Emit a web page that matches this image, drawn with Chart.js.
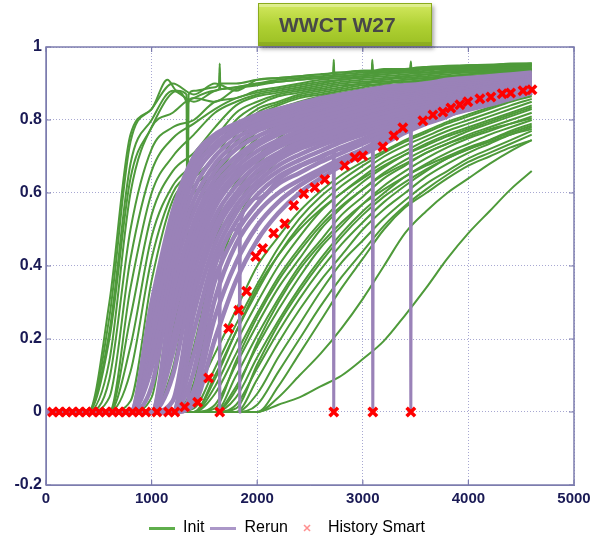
<!DOCTYPE html>
<html>
<head>
<meta charset="utf-8">
<script src="https://cdn.jsdelivr.net/npm/chart.js@4.4.1/dist/chart.umd.min.js"></script>
<style>
  html, body { margin: 0; padding: 0; background: #fff; overflow: hidden; }
  #wrap { position: relative; width: 607px; height: 546px; }
  #title {
    position: absolute; left: 258px; top: 3px; width: 174px; height: 43px;
    box-sizing: border-box; padding-left: 20px;
    background: linear-gradient(#d2e85e, #aed032 55%, #9cc024);
    border: 1px solid #8aab1c;
    box-shadow: 2px 3px 4px rgba(0,0,0,0.35), inset 0 3px 0 rgba(255,255,255,0.3), inset 0 -3px 0 rgba(0,0,0,0.1);
    font: bold 21px "Liberation Sans", Arial, sans-serif; color: #484848; line-height: 41px;
  }
</style>
</head>
<body>
<div id="wrap">
  <canvas id="chart" width="607" height="546"></canvas>
  <div id="title">WWCT W27</div>
</div>
<script>
// time axis shared by the ensemble runs (days)
var days = [0,200,400,600,800,1000,1200,1400,1600,1800,2000,2200,2400,2600,2800,3000,3200,3400,3600,3800,4000,4200,4400,4600];

// Init runs - early breakthrough, end in the top band
var initEarly = [
  [0,0,0,0.26,0.74,0.83,0.90,0.87,0.90,0.88,0.91,0.915,0.92,0.925,0.93,0.935,0.935,0.94,0.945,0.945,0.95,0.95,0.955,0.955],
  [0,0,0,0.22,0.68,0.80,0.88,0.85,0.88,0.89,0.90,0.91,0.915,0.92,0.925,0.93,0.935,0.94,0.94,0.945,0.945,0.95,0.95,0.955],
  [0,0,0,0.14,0.60,0.78,0.82,0.86,0.85,0.885,0.895,0.905,0.91,0.915,0.92,0.925,0.93,0.935,0.94,0.94,0.945,0.945,0.95,0.95],
  [0,0,0,0.09,0.50,0.72,0.78,0.80,0.85,0.86,0.88,0.89,0.90,0.91,0.915,0.92,0.925,0.93,0.935,0.94,0.94,0.945,0.945,0.95],
  [0,0,0,0.04,0.42,0.66,0.75,0.79,0.83,0.86,0.875,0.885,0.895,0.905,0.91,0.92,0.925,0.93,0.93,0.935,0.94,0.94,0.945,0.945],
  [0,0,0,0,0.34,0.60,0.70,0.76,0.82,0.85,0.87,0.88,0.89,0.90,0.91,0.915,0.92,0.925,0.93,0.935,0.935,0.94,0.94,0.945],
  [0,0,0,0,0.26,0.54,0.66,0.71,0.78,0.84,0.865,0.875,0.885,0.895,0.905,0.91,0.915,0.92,0.925,0.93,0.935,0.935,0.94,0.94],
  [0,0,0,0,0.18,0.48,0.62,0.68,0.75,0.82,0.85,0.87,0.88,0.89,0.90,0.905,0.91,0.92,0.925,0.93,0.93,0.935,0.935,0.94],
  [0,0,0,0,0.11,0.42,0.60,0.66,0.72,0.80,0.84,0.865,0.875,0.885,0.895,0.90,0.91,0.915,0.92,0.925,0.93,0.93,0.935,0.94],
  [0,0,0,0,0.03,0.36,0.58,0.64,0.70,0.78,0.83,0.85,0.87,0.88,0.89,0.90,0.905,0.91,0.915,0.92,0.925,0.93,0.935,0.935],
  [0,0,0,0,0,0.30,0.55,0.62,0.67,0.76,0.82,0.845,0.865,0.875,0.885,0.895,0.90,0.91,0.915,0.92,0.925,0.93,0.93,0.935],
  [0,0,0,0,0,0.22,0.50,0.60,0.65,0.74,0.81,0.84,0.86,0.87,0.88,0.89,0.90,0.905,0.91,0.915,0.92,0.925,0.93,0.935],
  [0,0,0,0,0,0.14,0.45,0.58,0.66,0.72,0.79,0.83,0.85,0.865,0.875,0.885,0.895,0.90,0.91,0.915,0.92,0.925,0.93,0.93],
  [0,0,0,0,0,0.04,0.40,0.56,0.63,0.70,0.77,0.82,0.84,0.86,0.87,0.88,0.89,0.90,0.905,0.91,0.915,0.92,0.925,0.93]
];

// two Init runs with the short jumps at the shut-in dates
var spikyDays = [0,400,600,800,1000,1150,1240,1330,1340,1350,1400,1600,1640,1645,1650,1800,2000,2200,2400,2600,2720,2725,2730,2800,3000,3085,3090,3095,3200,3400,3450,3455,3460,3600,4000,4600];
var spikyWctA = [0,0,0.30,0.76,0.83,0.91,0.88,0.87,0.41,0.87,0.88,0.89,0.90,0.955,0.90,0.90,0.91,0.915,0.92,0.925,0.93,0.965,0.93,0.93,0.935,0.935,0.965,0.935,0.94,0.94,0.94,0.96,0.94,0.945,0.95,0.955];
var spikyWctB = [0,0,0.20,0.64,0.78,0.86,0.88,0.85,0.84,0.85,0.86,0.88,0.885,0.93,0.885,0.89,0.90,0.905,0.91,0.915,0.92,0.95,0.92,0.92,0.925,0.93,0.955,0.93,0.93,0.935,0.935,0.955,0.935,0.94,0.945,0.95];

// Init runs - middle, mostly under the rerun band
var initMid = [
  [0,0,0,0,0,0,0.30,0.52,0.64,0.72,0.77,0.80,0.83,0.85,0.86,0.87,0.88,0.89,0.90,0.905,0.91,0.915,0.92,0.925],
  [0,0,0,0,0,0,0.22,0.46,0.60,0.69,0.75,0.79,0.82,0.84,0.855,0.865,0.875,0.885,0.89,0.90,0.905,0.91,0.915,0.92],
  [0,0,0,0,0,0,0.12,0.40,0.56,0.66,0.73,0.77,0.80,0.82,0.84,0.855,0.865,0.875,0.885,0.89,0.895,0.90,0.91,0.915],
  [0,0,0,0,0,0,0,0.34,0.52,0.63,0.70,0.75,0.79,0.81,0.83,0.845,0.86,0.87,0.875,0.885,0.89,0.895,0.90,0.905],
  [0,0,0,0,0,0,0,0.26,0.47,0.60,0.68,0.73,0.77,0.80,0.82,0.835,0.85,0.86,0.87,0.875,0.88,0.89,0.895,0.90],
  [0,0,0,0,0,0,0,0.18,0.42,0.56,0.65,0.71,0.75,0.78,0.805,0.825,0.84,0.85,0.86,0.87,0.875,0.88,0.89,0.895],
  [0,0,0,0,0,0,0,0.08,0.36,0.52,0.62,0.69,0.74,0.77,0.795,0.815,0.83,0.845,0.855,0.865,0.87,0.88,0.885,0.89]
];

// Init runs - late breakthrough, below the history
var initLate = [
  [0,0,0,0,0,0,0,0.05,0.16,0.28,0.40,0.48,0.55,0.605,0.65,0.685,0.715,0.745,0.77,0.795,0.815,0.835,0.855,0.87],
  [0,0,0,0,0,0,0,0.01,0.12,0.24,0.35,0.45,0.53,0.59,0.635,0.675,0.71,0.74,0.765,0.79,0.81,0.83,0.85,0.865],
  [0,0,0,0,0,0,0,0,0.10,0.22,0.33,0.43,0.51,0.57,0.62,0.66,0.70,0.73,0.755,0.78,0.80,0.82,0.84,0.858],
  [0,0,0,0,0,0,0,0,0.07,0.19,0.30,0.40,0.48,0.55,0.60,0.645,0.685,0.715,0.745,0.77,0.79,0.81,0.83,0.85],
  [0,0,0,0,0,0,0,0,0.05,0.16,0.27,0.37,0.45,0.52,0.58,0.63,0.67,0.705,0.735,0.76,0.78,0.80,0.82,0.84],
  [0,0,0,0,0,0,0,0,0.02,0.13,0.24,0.34,0.42,0.50,0.56,0.61,0.655,0.69,0.72,0.745,0.77,0.79,0.81,0.83],
  [0,0,0,0,0,0,0,0,0,0.10,0.21,0.31,0.40,0.47,0.54,0.59,0.64,0.675,0.71,0.735,0.76,0.78,0.80,0.82],
  [0,0,0,0,0,0,0,0,0,0.07,0.18,0.28,0.37,0.45,0.51,0.57,0.62,0.66,0.695,0.725,0.75,0.77,0.79,0.81],
  [0,0,0,0,0,0,0,0,0,0.04,0.15,0.25,0.34,0.42,0.49,0.55,0.60,0.645,0.68,0.71,0.735,0.76,0.78,0.80],
  [0,0,0,0,0,0,0,0,0,0.02,0.12,0.22,0.31,0.39,0.46,0.52,0.575,0.62,0.66,0.695,0.72,0.745,0.77,0.79],
  [0,0,0,0,0,0,0,0,0,0,0.09,0.19,0.28,0.36,0.43,0.50,0.555,0.60,0.645,0.68,0.71,0.735,0.76,0.78],
  [0,0,0,0,0,0,0,0,0,0,0.05,0.15,0.24,0.33,0.41,0.47,0.53,0.58,0.625,0.66,0.695,0.72,0.745,0.77],
  [0,0,0,0,0,0,0,0,0,0,0.02,0.11,0.20,0.29,0.37,0.44,0.51,0.565,0.61,0.65,0.685,0.71,0.735,0.76],
  [0,0,0,0,0,0,0,0,0,0,0,0.07,0.16,0.25,0.34,0.42,0.50,0.56,0.60,0.64,0.675,0.70,0.725,0.745],
  [0,0,0,0,0,0,0,0,0,0,0,0.04,0.10,0.16,0.23,0.31,0.40,0.49,0.55,0.60,0.64,0.68,0.715,0.745],
  [0,0,0,0,0,0,0,0,0,0,0,0.02,0.04,0.07,0.10,0.145,0.195,0.265,0.34,0.42,0.49,0.55,0.61,0.66],
  [0,0,0,0,0,0,0,0,0.09,0.22,0.34,0.43,0.50,0.555,0.60,0.64,0.675,0.705,0.73,0.755,0.775,0.795,0.815,0.835],
  [0,0,0,0,0,0,0,0,0.01,0.14,0.26,0.36,0.44,0.51,0.565,0.61,0.65,0.68,0.71,0.735,0.755,0.775,0.79,0.805],
  [0,0,0,0,0,0,0,0,0,0.06,0.19,0.30,0.39,0.46,0.52,0.57,0.61,0.645,0.675,0.70,0.725,0.745,0.765,0.785],
  [0,0,0,0,0,0,0,0,0,0.01,0.13,0.24,0.33,0.41,0.48,0.54,0.59,0.63,0.665,0.695,0.72,0.74,0.76,0.775]
];

// Rerun runs (history matched ensemble)
var rerun = [
  [0,0,0,0,0,0.30,0.55,0.70,0.76,0.79,0.815,0.83,0.845,0.86,0.87,0.88,0.89,0.895,0.90,0.91,0.915,0.92,0.925,0.93],
  [0,0,0,0,0,0.27,0.52,0.68,0.75,0.785,0.81,0.825,0.84,0.855,0.865,0.875,0.885,0.89,0.90,0.905,0.91,0.915,0.92,0.928],
  [0,0,0,0,0,0.23,0.49,0.66,0.735,0.775,0.80,0.82,0.835,0.85,0.86,0.87,0.88,0.885,0.895,0.90,0.905,0.91,0.918,0.925],
  [0,0,0,0,0,0.20,0.46,0.64,0.72,0.765,0.79,0.81,0.83,0.845,0.855,0.865,0.875,0.88,0.89,0.895,0.90,0.91,0.915,0.922],
  [0,0,0,0,0,0.16,0.43,0.61,0.70,0.75,0.78,0.80,0.82,0.835,0.85,0.86,0.87,0.878,0.885,0.893,0.90,0.905,0.912,0.92],
  [0,0,0,0,0,0.12,0.40,0.58,0.68,0.735,0.77,0.79,0.81,0.83,0.845,0.855,0.865,0.873,0.88,0.89,0.895,0.902,0.91,0.917],
  [0,0,0,0,0,0.07,0.37,0.55,0.66,0.72,0.755,0.78,0.80,0.82,0.835,0.85,0.86,0.868,0.877,0.885,0.892,0.90,0.906,0.914],
  [0,0,0,0,0,0,0.33,0.52,0.64,0.70,0.74,0.77,0.79,0.81,0.825,0.84,0.855,0.863,0.872,0.88,0.888,0.895,0.903,0.91],
  [0,0,0,0,0,0,0.29,0.50,0.62,0.685,0.73,0.76,0.78,0.80,0.815,0.83,0.845,0.857,0.867,0.875,0.883,0.89,0.90,0.907],
  [0,0,0,0,0,0,0.25,0.47,0.60,0.67,0.715,0.745,0.77,0.79,0.805,0.82,0.835,0.85,0.86,0.87,0.878,0.886,0.895,0.904],
  [0,0,0,0,0,0,0.20,0.44,0.58,0.655,0.70,0.735,0.76,0.78,0.80,0.815,0.83,0.843,0.855,0.865,0.873,0.882,0.89,0.90],
  [0,0,0,0,0,0,0.16,0.41,0.56,0.64,0.69,0.725,0.75,0.77,0.79,0.805,0.82,0.835,0.848,0.86,0.868,0.877,0.886,0.896],
  [0,0,0,0,0,0,0.10,0.38,0.535,0.62,0.675,0.71,0.74,0.76,0.78,0.795,0.81,0.827,0.84,0.852,0.862,0.872,0.882,0.892],
  [0,0,0,0,0,0,0.03,0.34,0.51,0.60,0.66,0.70,0.73,0.75,0.77,0.787,0.803,0.82,0.833,0.845,0.857,0.867,0.877,0.888],
  [0,0,0,0,0,0,0,0.31,0.49,0.585,0.645,0.69,0.72,0.74,0.76,0.78,0.795,0.812,0.826,0.84,0.852,0.862,0.873,0.885],
  [0,0,0,0,0,0,0,0.27,0.46,0.565,0.63,0.675,0.705,0.73,0.75,0.77,0.788,0.805,0.82,0.834,0.846,0.857,0.869,0.882],
  [0,0,0,0,0,0,0,0.22,0.43,0.545,0.615,0.66,0.69,0.715,0.74,0.76,0.78,0.797,0.813,0.828,0.84,0.852,0.865,0.879],
  [0,0,0,0,0,0,0,0.16,0.40,0.52,0.595,0.645,0.675,0.70,0.725,0.748,0.77,0.79,0.806,0.822,0.835,0.848,0.862,0.877],
  [0,0,0,0,0,0,0,0.11,0.36,0.49,0.57,0.625,0.655,0.685,0.71,0.735,0.76,0.782,0.80,0.817,0.831,0.845,0.86,0.876],
  [0,0,0,0,0,0,0,0.06,0.31,0.46,0.545,0.60,0.635,0.665,0.695,0.72,0.75,0.775,0.795,0.813,0.828,0.842,0.858,0.875],
  [0,0,0,0,0,0,0,0.04,0.26,0.41,0.51,0.575,0.62,0.655,0.685,0.712,0.742,0.77,0.792,0.811,0.834,0.85,0.862,0.875],
  [0,0,0,0,0,0,0,0.02,0.20,0.36,0.47,0.545,0.60,0.64,0.675,0.705,0.735,0.765,0.79,0.81,0.84,0.855,0.867,0.876]
];

// one rerun that drops to zero at the shut-in dates
var rerunCutDays = [0,1300,1400,1600,1640,1645,1650,1800,1830,1835,1840,2000,2200,2400,2600,2720,2725,2730,2800,3000,3090,3095,3100,3200,3400,3450,3455,3460,3600,3800,4000,4200,4400,4600];
var rerunCutWct  = [0,0,0.12,0.37,0.40,0,0.40,0.50,0.515,0,0.515,0.585,0.635,0.67,0.695,0.71,0,0.71,0.72,0.745,0.755,0,0.755,0.765,0.785,0.79,0,0.79,0.805,0.82,0.835,0.85,0.862,0.877];

// observed history
var historyDays = [62,125,190,250,315,380,440,505,565,630,690,755,820,880,945,1050,1160,1220,1313,1436,1540,1645,1730,1825,1900,1986,2052,2156,2261,2346,2441,2545,2640,2725,2829,2924,3000,3095,3190,3294,3379,3455,3569,3664,3758,3834,3919,3995,4109,4213,4320,4400,4517,4602];
var historyWct  = [0,0,0,0,0,0,0,0,0,0,0,0,0,0,0,0,0,0,0.014,0.027,0.093,0,0.229,0.279,0.331,0.426,0.448,0.49,0.516,0.566,0.598,0.615,0.637,0,0.675,0.697,0.702,0,0.727,0.757,0.779,0,0.798,0.814,0.822,0.833,0.842,0.85,0.858,0.863,0.872,0.874,0.88,0.883];

var xTicks = [0,1000,2000,3000,4000,5000];
var yTicks = [-0.2,0,0.2,0.4,0.6,0.8,1];

var GREEN = '#4e9a3a';
var PURPLE = '#9a82b8';
var RED = '#ff0000';
var FONT = '"Liberation Sans", Arial, sans-serif';

function toPoints(xs, ys){
	return xs.map(function(d, i){ return {x: d, y: ys[i]}; });
}

var datasets = [];
function addInit(points){
	datasets.push({label: 'Init', data: points, borderColor: GREEN, borderWidth: 2,
		pointRadius: 0, cubicInterpolationMode: 'monotone', order: 3});
}
initEarly.concat(initMid, initLate).forEach(function(row){ addInit(toPoints(days, row)); });
addInit(toPoints(spikyDays, spikyWctA));
addInit(toPoints(spikyDays, spikyWctB));

rerun.forEach(function(row){
	datasets.push({label: 'Rerun', data: toPoints(days, row), borderColor: PURPLE, borderWidth: 4.5,
		pointRadius: 0, cubicInterpolationMode: 'monotone', order: 2});
});
datasets.push({label: 'Rerun', data: toPoints(rerunCutDays, rerunCutWct), borderColor: PURPLE, borderWidth: 3,
	pointRadius: 0, cubicInterpolationMode: 'monotone', order: 2});
datasets.push({label: 'History Smart', data: toPoints(historyDays, historyWct), showLine: false,
	borderColor: RED, backgroundColor: RED, pointStyle: 'crossRot', pointRadius: 6, borderWidth: 3.5, order: 1});

// small legend icons
function lineIcon(color){
	var c = document.createElement('canvas');
	c.width = 26; c.height = 4;
	var g = c.getContext('2d');
	g.fillStyle = color;
	g.fillRect(0, 1, 26, 3);
	return c;
}
function crossIcon(color){
	var c = document.createElement('canvas');
	c.width = 10; c.height = 10;
	var g = c.getContext('2d');
	g.strokeStyle = color; g.lineWidth = 1.5;
	g.beginPath(); g.moveTo(2, 2); g.lineTo(8, 8); g.moveTo(8, 2); g.lineTo(2, 8); g.stroke();
	return c;
}

// frame round the plot with inward ticks
var framePlugin = {
	id: 'frame',
	beforeDatasetsDraw: function(chart){
		var ctx = chart.ctx, a = chart.chartArea, sx = chart.scales.x, sy = chart.scales.y;
		ctx.save();
		ctx.strokeStyle = '#7c7cae';
		ctx.lineWidth = 1.5;
		ctx.strokeRect(a.left, a.top, a.right - a.left, a.bottom - a.top);
		ctx.lineWidth = 1.2;
		ctx.beginPath();
		yTicks.forEach(function(v){
			var y = sy.getPixelForValue(v);
			ctx.moveTo(a.left, y); ctx.lineTo(a.left + 5, y);
			ctx.moveTo(a.right, y); ctx.lineTo(a.right - 5, y);
		});
		xTicks.forEach(function(v){
			var x = sx.getPixelForValue(v);
			ctx.moveTo(x, a.top); ctx.lineTo(x, a.top + 5);
			ctx.moveTo(x, a.bottom); ctx.lineTo(x, a.bottom - 5);
		});
		ctx.stroke();
		ctx.restore();
	}
};

new Chart(document.getElementById('chart'), {
	type: 'line',
	data: {datasets: datasets},
	plugins: [framePlugin],
	options: {
		responsive: false,
		animation: false,
		devicePixelRatio: 1,
		layout: {padding: {top: 47, right: 33, left: 0, bottom: 0}},
		plugins: {
			tooltip: {enabled: false},
			legend: {
				position: 'bottom',
				onClick: null,
				labels: {
					usePointStyle: true,
					pointStyleWidth: 26,
					padding: 6,
					color: '#222',
					font: {size: 16, family: FONT},
					generateLabels: function(){
						return [
							{text: 'Init', pointStyle: lineIcon('#5fae4c'), fillStyle: GREEN, strokeStyle: GREEN, lineWidth: 0, hidden: false},
							{text: 'Rerun', pointStyle: lineIcon('#ab97c8'), fillStyle: PURPLE, strokeStyle: PURPLE, lineWidth: 0, hidden: false},
							{text: 'History Smart', pointStyle: crossIcon('#ff8c8c'), fillStyle: RED, strokeStyle: RED, lineWidth: 0, hidden: false}
						];
					}
				}
			}
		},
		scales: {
			x: {
				type: 'linear', min: 0, max: 5000,
				afterBuildTicks: function(s){ s.ticks = xTicks.map(function(v){ return {value: v}; }); },
				ticks: {color: '#1a1a55', font: {size: 15, family: FONT, weight: 'bold'}, padding: 5,
					callback: function(v){ return String(v); }},
				grid: {color: '#a8a8d2', drawTicks: false},
				border: {color: '#7c7cae', dash: [1, 2]},
				afterFit: function(s){ s.height = 29; }
			},
			y: {
				min: -0.2, max: 1,
				afterBuildTicks: function(s){ s.ticks = yTicks.map(function(v){ return {value: v}; }); },
				ticks: {color: '#1a1a55', font: {size: 16, family: FONT, weight: 'bold'}, padding: 4,
					callback: function(v){ return String(v); }},
				grid: {color: '#a8a8d2', drawTicks: false},
				border: {color: '#7c7cae', dash: [1, 2]},
				afterFit: function(s){ s.width = 46; }
			}
		}
	}
});
</script>
</body>
</html>
